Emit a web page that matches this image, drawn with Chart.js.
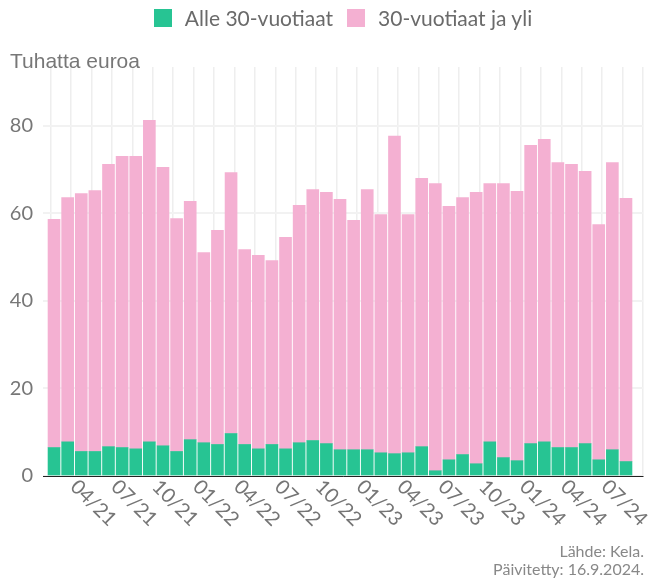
<!DOCTYPE html>
<html>
<head>
<meta charset="utf-8">
<script src="https://cdn.jsdelivr.net/npm/chart.js@4"></script>
<style>
  body { margin: 0; background: #fff; }
  #wrap { position: relative; width: 652px; height: 579px; font-family: Lato, sans-serif; }
  #chart { position: absolute; left: 0; top: 0; }
  #legend { position: absolute; left: 43px; width: 600px; top: 5px; text-align: center; font-size: 21px; color: #6a6a6a; white-space: nowrap; }
  .item { display: inline-flex; align-items: center; margin: 0 7px; }
  .box { display: inline-block; width: 18px; height: 18px; margin-right: 13px; }
  #ytitle { position: absolute; left: 10px; top: 49px; font: 21px "Liberation Sans", Arial, sans-serif; color: #777; }
  #credits { position: absolute; right: 8px; bottom: 1px; text-align: right; font-size: 16px; color: #888; line-height: 18px; }
</style>
</head>
<body>
<div id="wrap">
  <canvas id="chart" width="652" height="579"></canvas>
  <div id="legend"></div>
  <div id="ytitle">Tuhatta euroa</div>
  <div id="credits">Lähde: Kela.<br>Päivitetty: 16.9.2024.</div>
</div>
<script>
// ================= DATA =================
const months = [
  "01/21", "02/21", "03/21", "04/21", "05/21", "06/21", "07/21", "08/21", "09/21", "10/21", "11/21", "12/21",
  "01/22", "02/22", "03/22", "04/22", "05/22", "06/22", "07/22", "08/22", "09/22", "10/22", "11/22", "12/22",
  "01/23", "02/23", "03/23", "04/23", "05/23", "06/23", "07/23", "08/23", "09/23", "10/23", "11/23", "12/23",
  "01/24", "02/24", "03/24", "04/24", "05/24", "06/24", "07/24"
];

// Alle 30-vuotiaat, tuhatta euroa
const under30 = [
  6.5, 7.8, 5.6, 5.6, 6.7, 6.5, 6.2, 7.8, 6.9, 5.6, 8.3, 7.6,
  7.2, 9.7, 7.2, 6.2, 7.2, 6.2, 7.6, 8.1, 7.4, 6.0, 6.0, 6.0,
  5.3, 5.1, 5.3, 6.7, 1.2, 3.7, 4.9, 2.8, 7.8, 4.2, 3.5, 7.4,
  7.8, 6.5, 6.5, 7.4, 3.7, 6.0, 3.3
];

// 30-vuotiaat ja yli, tuhatta euroa
const over30 = [
  52.1, 55.8, 58.9, 59.6, 64.5, 66.5, 66.8, 73.4, 63.6, 53.2, 54.4, 43.4,
  48.9, 59.6, 44.5, 44.2, 42.0, 48.3, 54.2, 57.3, 57.4, 57.2, 52.4, 59.4,
  54.4, 72.5, 54.4, 61.3, 65.6, 57.9, 58.7, 62.0, 59.0, 62.6, 61.5, 68.1,
  69.1, 65.1, 64.7, 62.2, 53.7, 65.6, 60.1
];

const xTickLabels = ["04/21", "07/21", "10/21", "01/22", "04/22", "07/22", "10/22",
  "01/23", "04/23", "07/23", "10/23", "01/24", "04/24", "07/24"];
const yTicks = [0, 20, 40, 60, 80];

const GREEN = "#27c493";
const PINK = "#f4b0d2";

// ================= LEGEND =================
const legendEl = document.getElementById("legend");
[["Alle 30-vuotiaat", GREEN], ["30-vuotiaat ja yli", PINK]].forEach(([name, color]) => {
  legendEl.innerHTML += `<span class="item"><span class="box" style="background:${color}"></span>${name}</span>`;
});

// ================= X LABELS (rotated clockwise) =================
const monthLabels = {
  id: "monthLabels",
  afterDraw(chart) {
    const ctx = chart.ctx;
    const xs = chart.scales.x;
    ctx.save();
    ctx.fillStyle = "#757575";
    ctx.font = "20px Lato";
    ctx.textAlign = "center";
    ctx.textBaseline = "middle";
    xTickLabels.forEach(lbl => {
      const i = months.indexOf(lbl);
      ctx.save();
      ctx.translate(xs.getPixelForValue(i) - 1.5, chart.chartArea.bottom + 27);
      ctx.rotate(Math.PI / 4);
      ctx.fillText(lbl, 0, 0);
      ctx.restore();
    });
    ctx.restore();
  }
};

// vertical grid every 1.5 months, on the bar edges
const xGrid = [];
for (let g = 0.5; g <= 42.5; g += 1.5) xGrid.push({ value: g });

// ================= CHART =================
new Chart(document.getElementById("chart"), {
  type: "bar",
  data: {
    datasets: [
      {
        label: "Alle 30-vuotiaat",
        data: under30.map((v, i) => ({ x: i, y: v })),
        backgroundColor: GREEN,
        barThickness: 12
      },
      {
        label: "30-vuotiaat ja yli",
        data: over30.map((v, i) => ({ x: i, y: v })),
        backgroundColor: PINK,
        barThickness: 12
      }
    ]
  },
  options: {
    responsive: false,
    animation: false,
    layout: { padding: { top: 67, right: 9, bottom: 103, left: 0 } },
    plugins: { legend: { display: false }, tooltip: { enabled: false } },
    scales: {
      x: {
        type: "linear",
        stacked: true,
        min: -0.81,
        max: 43.25,
        offset: false,
        ticks: { display: false },
        grid: { color: "#eeeeee", lineWidth: 1.5, drawTicks: false },
        border: { color: "#222", width: 1 },
        afterBuildTicks: s => { s.ticks = xGrid; },
        afterFit: s => { s.height = 0; }
      },
      y: {
        stacked: true,
        min: 0,
        max: 93.4,
        ticks: { color: "#777", font: { family: "Lato", size: 20 }, padding: 10 },
        grid: { color: "#f2f2f2", lineWidth: 2, drawTicks: false },
        border: { display: false },
        afterBuildTicks: s => { s.ticks = yTicks.map(v => ({ value: v })); },
        afterFit: s => { s.width = 43; }
      }
    }
  },
  plugins: [monthLabels]
});
</script>
</body>
</html>
